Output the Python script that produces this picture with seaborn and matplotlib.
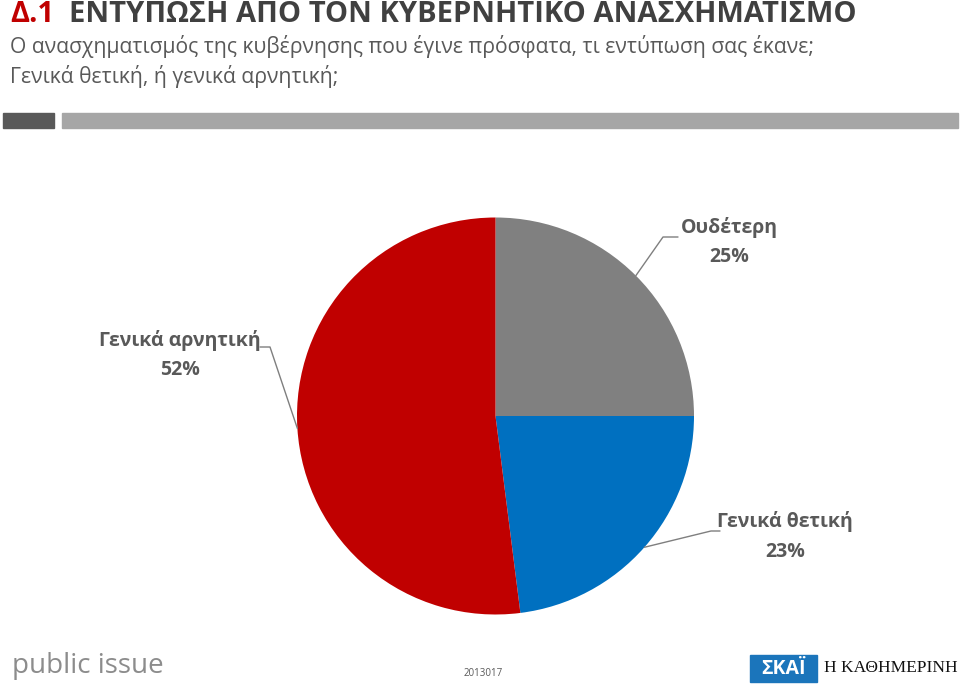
import matplotlib
matplotlib.use("Agg")
import matplotlib.pyplot as plt
import seaborn as sns
import numpy as np
from matplotlib.patches import Rectangle

sns.set_theme(style="white")
plt.rcParams['font.family'] = ['Open Sans', 'DejaVu Sans']

categories = ["Ουδέτερη", "Γενικά θετική", "Γενικά αρνητική"]
values = [25, 23, 52]
colors = ["#808080", "#0070C0", "#C00000"]

W, H = 960, 685
fig = plt.figure(figsize=(9.6, 6.85), dpi=100)
fig.patch.set_facecolor("white")

def fx(x):
    return x / W

def fy(y):
    return 1 - y / H

# Title
fig.text(fx(10), fy(14), "Δ.1", color="#C00000", fontsize=21, fontweight="bold", va="center", ha="left")
fig.text(fx(69), fy(14), "ΕΝΤΥΠΩΣΗ ΑΠΟ ΤΟΝ ΚΥΒΕΡΝΗΤΙΚΟ ΑΝΑΣΧΗΜΑΤΙΣΜΟ", color="#404040",
         fontsize=21, fontweight="bold", va="center", ha="left")
fig.text(fx(10), fy(47), "Ο ανασχηματισμός της κυβέρνησης που έγινε πρόσφατα, τι εντύπωση σας έκανε;",
         color="#595959", fontsize=15.2, va="center", ha="left")
fig.text(fx(10), fy(77), "Γενικά θετική, ή γενικά αρνητική;",
         color="#595959", fontsize=15.2, va="center", ha="left")

# Separator bars
fig.patches.append(Rectangle((fx(3), fy(128)), fx(51), 15 / H, transform=fig.transFigure,
                             color="#595959", zorder=1))
fig.patches.append(Rectangle((fx(62), fy(128)), fx(896), 15 / H, transform=fig.transFigure,
                             color="#A6A6A6", zorder=1))

# Pie axes
cx, cy, r = 495.5, 416, 198.5
ax = fig.add_axes([fx(cx - r), fy(cy + r), 2 * r / W, 2 * r / H])
wedges, _ = ax.pie(values, colors=colors, startangle=90, counterclock=False, radius=1,
                   wedgeprops=dict(linewidth=0))
ax.set_xlim(-1, 1)
ax.set_ylim(-1, 1)
ax.set_aspect("auto")
ax.axis("off")

# Labels with leader lines (in pixel-based figure coords)
label_pos = {
    "Ουδέτερη": ((729, 227), [(663, 237), (678, 237)]),
    "Γενικά θετική": ((785, 522), [(711, 531), (720, 531)]),
    "Γενικά αρνητική": ((180, 340), [(270, 347), (260, 347)]),
}
for w, cat, v in zip(wedges, categories, values):
    ang = np.deg2rad((w.theta1 + w.theta2) / 2)
    px = cx + r * np.cos(ang)
    py = cy - r * np.sin(ang)
    (tx, ty), pts = label_pos[cat]
    xs = [px] + [p[0] for p in pts]
    ys = [py] + [p[1] for p in pts]
    fig.add_artist(plt.Line2D([fx(x) for x in xs], [fy(y) for y in ys], transform=fig.transFigure,
                              color="#7F7F7F", linewidth=1))
    fig.text(fx(tx), fy(ty), cat, color="#595959", fontsize=14, fontweight="bold",
             ha="center", va="center")
    fig.text(fx(tx), fy(ty + 30), f"{v}%", color="#595959", fontsize=14, fontweight="bold",
             ha="center", va="center")

# Footer
fig.text(fx(12), fy(666), "public issue", color="#8C8C8C", fontsize=20, va="center", ha="left")
fig.text(fx(483), fy(673), "2013017", color="#595959", fontsize=7, va="center", ha="center")
fig.patches.append(Rectangle((fx(750), fy(682)), fx(67), 27 / H, transform=fig.transFigure,
                             color="#1B75BB", zorder=1))
fig.text(fx(783.5), fy(668.5), "ΣΚΑΪ", color="white", fontsize=14, fontweight="bold",
         va="center", ha="center")
fig.text(fx(958), fy(668.5), "Η ΚΑΘΗΜΕΡΙΝΗ", color="#111111", fontsize=12.5,
         family=["Liberation Serif", "DejaVu Serif"], va="center", ha="right")

fig.savefig("out.png", dpi=100, facecolor="white")
